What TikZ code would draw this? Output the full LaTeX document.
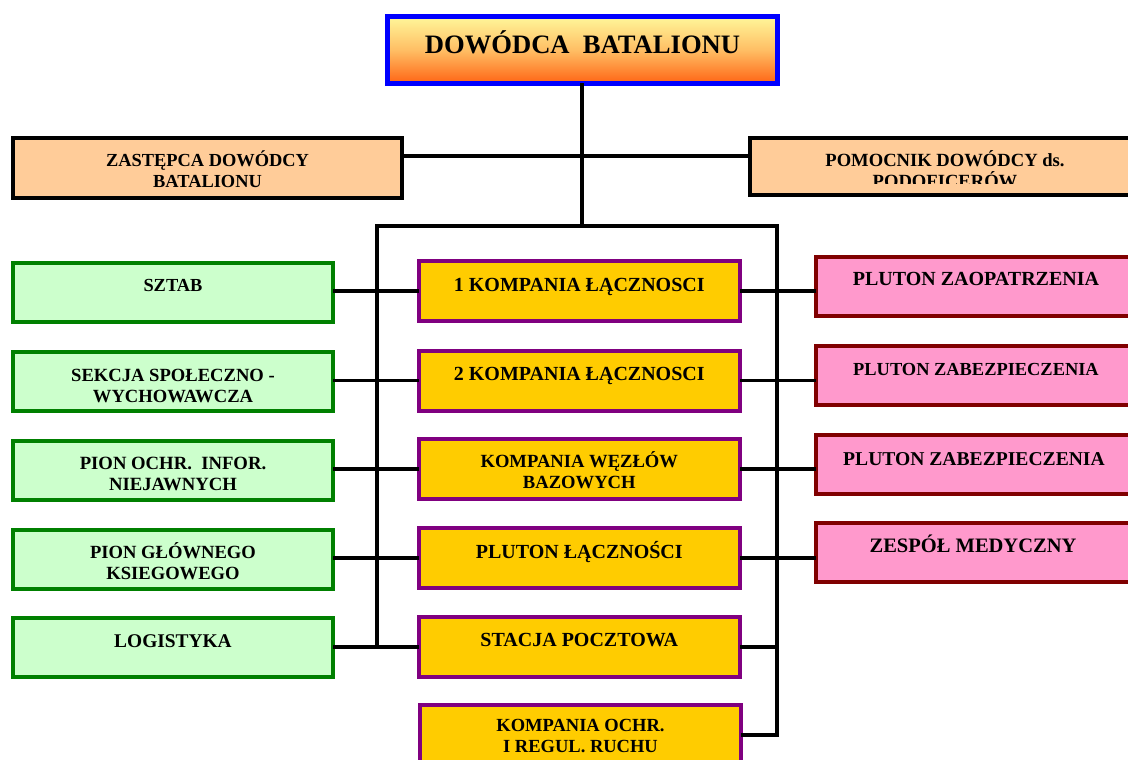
\documentclass[tikz,border=0pt]{standalone}
\usepackage{fontspec}
\setmainfont{Liberation Serif}
\definecolor{gfill}{HTML}{CCFFCC}
\definecolor{gline}{HTML}{008000}
\definecolor{ofill}{HTML}{FFCC00}
\definecolor{oline}{HTML}{800080}
\definecolor{pfill}{HTML}{FF99CC}
\definecolor{pline}{HTML}{800000}
\definecolor{cfill}{HTML}{FFCC99}
\definecolor{tline}{HTML}{0000FF}
\definecolor{ttop}{HTML}{FFF79A}
\definecolor{tmid}{HTML}{FFBE64}
\definecolor{tbot}{HTML}{FF6414}
\tikzset{
  boxbase/.style={rectangle, inner sep=0pt, outer sep=0pt, line width=4pt},
  gbox/.style={boxbase, draw=gline, fill=gfill, minimum width=320pt, minimum height=59pt},
  obox/.style={boxbase, draw=oline, fill=ofill, minimum width=321.5pt, minimum height=60pt},
  pbox/.style={boxbase, draw=pline, fill=pfill, minimum width=320pt, minimum height=59pt},
  cbox/.style={boxbase, draw=black, fill=cfill},
  topbox/.style={boxbase, draw=tline, line width=5pt, top color=ttop, bottom color=tbot, middle color=tmid},
  lbl/.style={inner sep=0pt, outer sep=0pt, anchor=base, font=\bfseries, text=black},
  conn/.style={draw=black, line width=3.7pt},
}
\newcommand\boxtext[5]{\node[lbl] (#1) at (#2,#3) {\fontsize{#4}{21}\selectfont\parbox[t]{380pt}{\centering #5}};}
\frenchspacing
\begin{document}
\begin{tikzpicture}[x=1pt,y=-1pt]
\useasboundingbox (0,0) rectangle (1128,760);
\clip (0,0) rectangle (1128,760);

% top
\node[topbox, minimum width=390pt, minimum height=67pt] (top) at (582.5,50) {};
\boxtext{topt}{582.5}{54}{26.6}{DOWÓDCA\ \ BATALIONU}

% deputies
\node[cbox, minimum width=389pt, minimum height=60pt] (zast) at (207.5,168) {};
\boxtext{zastt}{207.5}{166}{18.4}{ZASTĘPCA DOWÓDCY\\BATALIONU}
\node[cbox, minimum width=390pt, minimum height=57pt] (pom) at (945,166.5) {};
\begin{scope}
  \clip (748,136) rectangle (1142,183.5);
  \boxtext{pomt}{945}{166}{18.6}{POMOCNIK DOWÓDCY ds.\\PODOFICERÓW}
\end{scope}

% left column
\node[gbox] (sztab) at (173,292.5) {};
\boxtext{sztabt}{173}{291.7}{18.4}{SZTAB}
\node[gbox] (sekcja) at (173,381) {};
\boxtext{sekcjat}{173}{381}{18.6}{SEKCJA SPOŁECZNO -\\WYCHOWAWCZA}
\node[gbox] (pochr) at (173,470.5) {};
\boxtext{pochrt}{173}{469.3}{18.7}{PION OCHR.\ \ INFOR.\\NIEJAWNYCH}
\node[gbox] (pglow) at (173,559.5) {};
\boxtext{pglowt}{173}{558.3}{18.6}{PION GŁÓWNEGO\\KSIEGOWEGO}
\node[gbox] (logi) at (173,647.5) {};
\boxtext{logit}{173}{647}{19.4}{LOGISTYKA}

% middle column
\node[obox] (k1) at (579.3,291) {};
\boxtext{k1t}{579.3}{291.7}{20}{1 KOMPANIA ŁĄCZNOSCI}
\node[obox] (k2) at (579.3,380.5) {};
\boxtext{k2t}{579.3}{380}{20}{2 KOMPANIA ŁĄCZNOSCI}
\node[obox] (kwb) at (579.3,469) {};
\boxtext{kwbt}{579.3}{467.3}{18.6}{KOMPANIA WĘZŁÓW\\BAZOWYCH}
\node[obox] (pl) at (579.3,558) {};
\boxtext{plt}{579.3}{558.3}{20}{PLUTON ŁĄCZNOŚCI}
\node[obox] (sp) at (579.3,647) {};
\boxtext{spt}{579.3}{646.7}{20}{STACJA POCZTOWA}
\node[obox] (kor) at (580.5,735) {};
\boxtext{kort}{580.5}{731.7}{18.5}{KOMPANIA OCHR.\\I REGUL. RUCHU}

% right column
\node[pbox] (pz) at (976,286) {};
\boxtext{pzt}{976}{285.7}{20}{PLUTON ZAOPATRZENIA}
\node[pbox] (pzb1) at (976,375) {};
\boxtext{pzb1t}{976}{375}{18.4}{PLUTON ZABEZPIECZENIA}
\node[pbox] (pzb2) at (976,464) {};
\boxtext{pzb2t}{974}{465}{19.6}{PLUTON ZABEZPIECZENIA}
\node[pbox] (zm) at (976,552.5) {};
\boxtext{zmt}{973}{552.7}{20.5}{ZESPÓŁ MEDYCZNY}

% connectors
\coordinate (hl) at (582,156);
\coordinate (barC) at (582,226);
\coordinate (barL) at (377,226);
\coordinate (barR) at (777,226);
\draw[conn] (top.south -| barC) -- (barC);
\draw[conn] (zast.east |- hl) -- (pom.west |- hl);
\draw[conn] (barL |- sp.west) -- (barL) -- (barR) -- (barR |- kor.east) -- (kor.east);

\draw[conn] (sztab.east |- k1.west) -- (k1.west);
\draw[conn] (sekcja.east |- k2.west) -- (k2.west);
\draw[conn] (pochr.east |- kwb.west) -- (kwb.west);
\draw[conn] (pglow.east |- pl.west) -- (pl.west);
\draw[conn] (logi.east |- sp.west) -- (sp.west);

\draw[conn] (k1.east) -- (k1.east -| pz.west);
\draw[conn] (k2.east) -- (k2.east -| pzb1.west);
\draw[conn] (kwb.east) -- (kwb.east -| pzb2.west);
\draw[conn] (pl.east) -- (pl.east -| zm.west);
\draw[conn] (sp.east) -- (sp.east -| barR);
\end{tikzpicture}
\end{document}
